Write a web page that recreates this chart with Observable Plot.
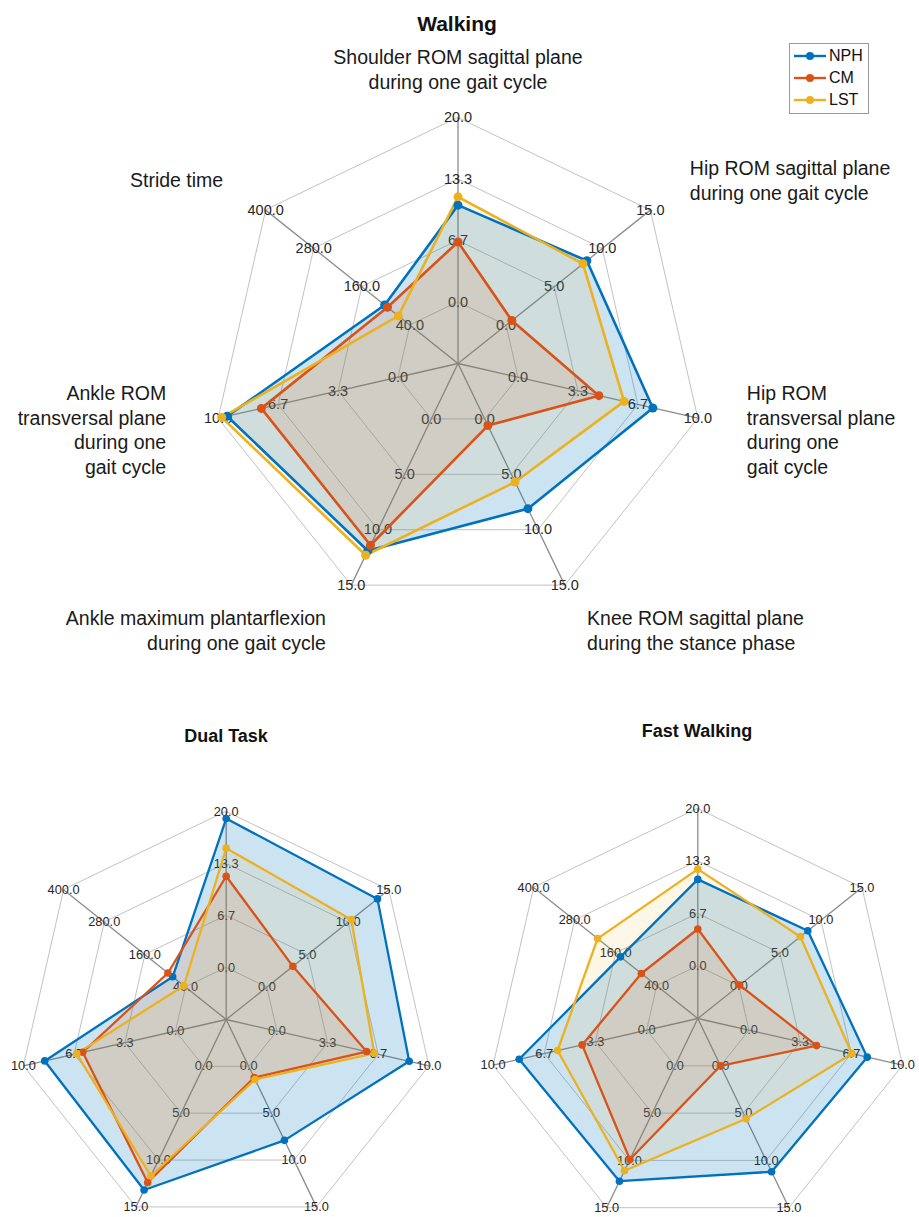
<!DOCTYPE html>
<html>
<head>
<meta charset="utf-8">
<script src="https://cdn.jsdelivr.net/npm/d3@7"></script>
<script src="https://cdn.jsdelivr.net/npm/@observablehq/plot@0.6"></script>
<style>
  body { margin: 0; background: #fff; }
  #page { position: relative; width: 919px; height: 1217px; overflow: hidden;
          font-family: "Liberation Sans", Arial, sans-serif; color: #262626; background: #fff; }
  .panel { position: absolute; }
  .title { position: absolute; font-weight: bold; text-align: center; color: #111; white-space: nowrap; }
  #legend { position: absolute; left: 789px; top: 43px; width: 78px; height: 69px;
            border: 1px solid #9a9a9a; background: #fff; }
  #legend .row { position: absolute; left: 3px; height: 20px; display: flex; align-items: center;
                 font-size: 16px; color: #111; }
  #legend svg { margin-right: 2px; }
</style>
</head>
<body>
<div id="page"></div>
<script>
// Spoke names, clockwise from the top
const axisLabels = [
  "Shoulder ROM sagittal plane\nduring one gait cycle",
  "Hip ROM sagittal plane\nduring one gait cycle",
  "Hip ROM\ntransversal plane\nduring one\ngait cycle",
  "Knee ROM sagittal plane\nduring the stance phase",
  "Ankle maximum plantarflexion\nduring one gait cycle",
  "Ankle ROM\ntransversal plane\nduring one\ngait cycle",
  "Stride time"
];
const axisMin = [0, 0, 0, 0, 0, 0, 40];
const axisMax = [20, 15, 10, 15, 15, 10, 400];
const tickLabels = [
  ["0.0", "6.7", "13.3", "20.0"],
  ["0.0", "5.0", "10.0", "15.0"],
  ["0.0", "3.3", "6.7", "10.0"],
  ["0.0", "5.0", "10.0", "15.0"],
  ["0.0", "5.0", "10.0", "15.0"],
  ["0.0", "3.3", "6.7", "10.0"],
  ["40.0", "160.0", "280.0", "400.0"]
];

const seriesNames = ["NPH", "CM", "LST"];
const seriesColors = ["#0072BD", "#D95319", "#EDB120"];
const seriesFillOpacity = [0.2, 0.12, 0.1];

// Walking
const walkingNPH = [10.5, 8.4, 7.5, 8.1, 11.9, 9.5, 103];
const walkingCM  = [6.5, 0.6, 4.5, 0.6, 11.4, 7.6, 96];
const walkingLST = [11.4, 8.0, 5.9, 5.7, 12.3, 9.8, 69];
// Dual Task
const dualNPH = [19.1, 13.6, 8.7, 7.9, 13.2, 8.6, 78];
const dualCM  = [11.7, 3.2, 5.9, 1.2, 12.4, 6.1, 92];
const dualLST = [15.3, 10.4, 6.4, 1.4, 11.7, 6.5, 45];
// Fast Walking
const fastNPH = [11.0, 8.4, 7.7, 11.2, 12.2, 8.3, 146];
const fastCM  = [4.7, 0.1, 4.4, 0.0, 9.9, 4.2, 85];
const fastLST = [12.3, 7.5, 6.7, 5.6, 11.1, 5.8, 213];

const panels = [
  { title: "Walking", series: [walkingNPH, walkingCM, walkingLST], labels: true,
    box: { left: 0, top: 0, width: 919, height: 690 }, cx: 457.5, cy: 363, R: 246,
    tickSize: 14.5, dotR: 4.5, lineW: 2.6,
    titleStyle: { left: 257, top: 12, width: 400, fontSize: 21 } },
  { title: "Dual Task", series: [dualNPH, dualCM, dualLST], labels: false,
    box: { left: 0, top: 690, width: 459, height: 527 }, cx: 225.7, cy: 1019, R: 208,
    tickSize: 12.8, dotR: 3.8, lineW: 2.3,
    titleStyle: { left: 126, top: 724, width: 200, fontSize: 18 } },
  { title: "Fast Walking", series: [fastNPH, fastCM, fastLST], labels: false,
    box: { left: 459, top: 690, width: 460, height: 527 }, cx: 697.3, cy: 1018, R: 210,
    tickSize: 12.8, dotR: 3.8, lineW: 2.3,
    titleStyle: { left: 597, top: 719, width: 200, fontSize: 18 } }
];

const n = axisLabels.length;
const angle = i => Math.PI / 2 - i * 2 * Math.PI / n;
// innermost ring holds the axis minimum, outer ring the maximum
const radial = (i, v) => 0.25 + 0.75 * (v - axisMin[i]) / (axisMax[i] - axisMin[i]);
const ringFrac = k => 0.25 + 0.75 * k / 3;

function radar(p) {
  const { box, cx, cy, R } = p;
  const ox = cx - box.left, oy = cy - box.top;

  const rings = [];
  for (let k = 0; k < 4; k++)
    for (let i = 0; i < n; i++)
      rings.push({ k, x: ringFrac(k) * Math.cos(angle(i)), y: ringFrac(k) * Math.sin(angle(i)) });

  const ticks = [];
  for (let i = 0; i < n; i++)
    for (let k = 0; k < 4; k++)
      ticks.push({ text: tickLabels[i][k], x: ringFrac(k) * Math.cos(angle(i)), y: ringFrac(k) * Math.sin(angle(i)) });

  const rows = p.series.map((vals, s) => vals.map((v, i) => {
    const f = radial(i, v);
    return { series: seriesNames[s], x: f * Math.cos(angle(i)), y: f * Math.sin(angle(i)) };
  }));

  const names = axisLabels.map((t, i) => ({ t, x: 1.2 * Math.cos(angle(i)), y: 1.2 * Math.sin(angle(i)) }));
  const nameMark = (filter, anchor, dx) => Plot.text(names.filter(filter), {
    x: "x", y: "y", text: "t", textAnchor: anchor, lineAnchor: "middle", dx,
    fontSize: 19.5, lineHeight: 1.27, fill: "#1a1a1a"
  });

  const marks = [
    Plot.line(rings, { x: "x", y: "y", z: "k", curve: "linear-closed", stroke: "#c2c2c2", strokeWidth: 1 }),
    Plot.link(d3.range(n), { x1: () => 0, y1: () => 0,
      x2: i => Math.cos(angle(i)), y2: i => Math.sin(angle(i)), stroke: "#8c8c8c", strokeWidth: 1.3 }),
    Plot.text(ticks, { x: "x", y: "y", text: "text", fontSize: p.tickSize, fill: "#262626" }),
    ...rows.map((r, s) => Plot.line(r, { x: "x", y: "y", curve: "linear-closed",
      fill: seriesColors[s], fillOpacity: seriesFillOpacity[s], stroke: "none" })),
    ...rows.map((r, s) => Plot.line(r, { x: "x", y: "y", curve: "linear-closed",
      stroke: seriesColors[s], strokeWidth: p.lineW })),
    ...rows.map((r, s) => Plot.dot(r, { x: "x", y: "y", fill: seriesColors[s], r: p.dotR }))
  ];
  if (p.labels) {
    marks.push(nameMark(d => d.x > 0.01, "start", 1));
    marks.push(nameMark(d => d.x < -0.01, "end", -4));
    marks.push(nameMark(d => Math.abs(d.x) <= 0.01, "middle", 0));
  }

  return Plot.plot({
    width: box.width, height: box.height, margin: 0,
    x: { domain: [-ox / R, (box.width - ox) / R], axis: null },
    y: { domain: [-(box.height - oy) / R, oy / R], axis: null },
    style: { fontFamily: "Liberation Sans, Arial, sans-serif", background: "transparent", overflow: "visible" },
    marks
  });
}

const page = document.getElementById("page");
panels.forEach(p => {
  const wrap = document.createElement("div");
  wrap.className = "panel";
  Object.assign(wrap.style, { left: p.box.left + "px", top: p.box.top + "px" });
  wrap.appendChild(radar(p));
  page.appendChild(wrap);

  const t = document.createElement("div");
  t.className = "title";
  t.textContent = p.title;
  Object.assign(t.style, {
    left: p.titleStyle.left + "px", top: p.titleStyle.top + "px",
    width: p.titleStyle.width + "px", fontSize: p.titleStyle.fontSize + "px", lineHeight: "24px"
  });
  page.appendChild(t);
});

// legend
const legend = document.createElement("div");
legend.id = "legend";
seriesNames.forEach((name, s) => {
  const row = document.createElement("div");
  row.className = "row";
  row.style.top = (2 + s * 22) + "px";
  row.innerHTML =
    `<svg width="34" height="12"><line x1="1" y1="6" x2="33" y2="6" stroke="${seriesColors[s]}" stroke-width="2.4"/>` +
    `<circle cx="17" cy="6" r="4" fill="${seriesColors[s]}"/></svg><span>${name}</span>`;
  legend.appendChild(row);
});
page.appendChild(legend);
</script>
</body>
</html>
